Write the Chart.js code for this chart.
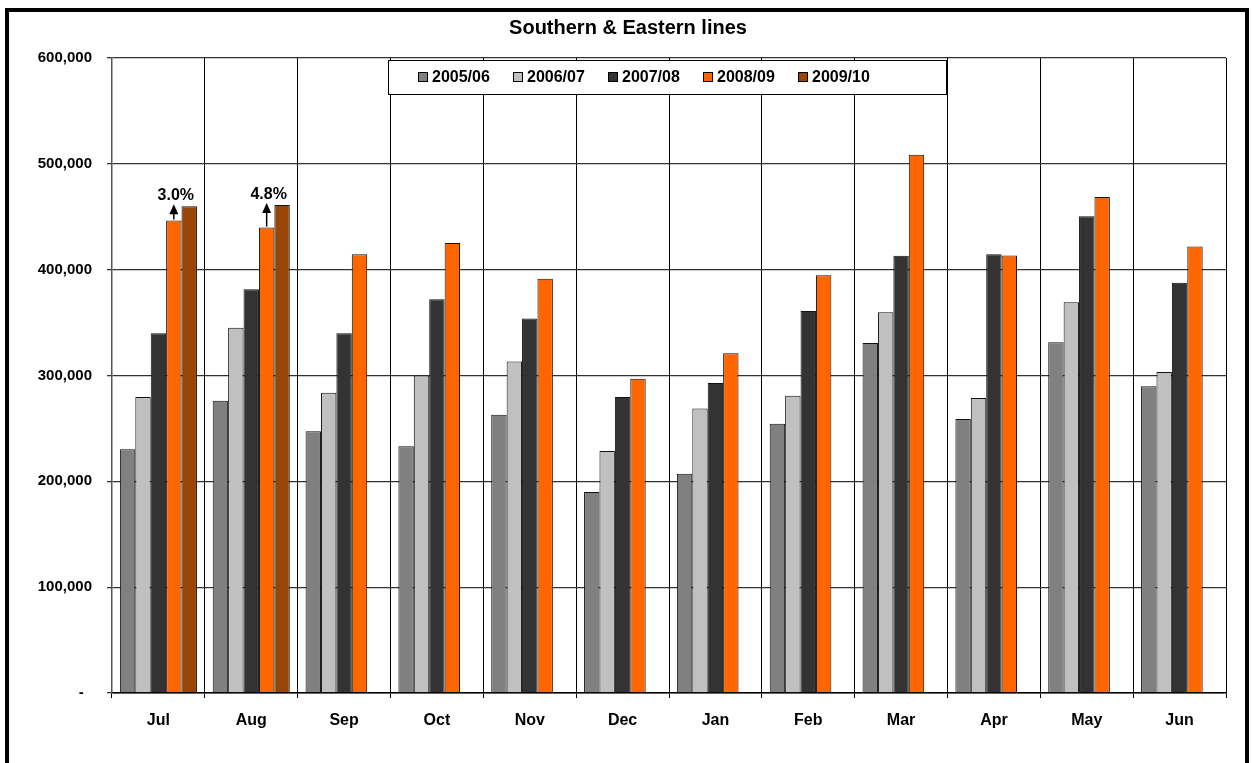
<!DOCTYPE html>
<html>
<head>
<meta charset="utf-8">
<title>Southern & Eastern lines</title>
<script src="https://cdn.jsdelivr.net/npm/chart.js@4.4.1/dist/chart.umd.min.js"></script>
<style>
  html, body { margin: 0; padding: 0; background: #fff; }
  canvas { display: block; }
</style>
</head>
<body>
<canvas id="barChart" width="1252" height="763"></canvas>
<script>
const months = ['Jul', 'Aug', 'Sep', 'Oct', 'Nov', 'Dec', 'Jan', 'Feb', 'Mar', 'Apr', 'May', 'Jun'];
const years = ['2005/06', '2006/07', '2007/08', '2008/09', '2009/10'];

const y0506 = [230200, 276200, 247300, 233200, 262800, 189900, 207100, 254300, 330800, 259000, 331400, 289800];
const y0607 = [279700, 345100, 283800, 300000, 313200, 228700, 268900, 280800, 359800, 278700, 369200, 303200];
const y0708 = [340000, 381600, 340000, 372000, 353800, 279800, 292800, 361000, 413200, 414600, 450500, 387600];
const y0809 = [446500, 439800, 414600, 425200, 391500, 296900, 321000, 394700, 508500, 413300, 468600, 421900];
const y0910 = [460000, 461000, null, null, null, null, null, null, null, null, null, null];

const yTicks = [0, 100000, 200000, 300000, 400000, 500000, 600000];
// growth of 2009/10 over 2008/09, shown above the first two months
const growthMonths = [0, 1];
const growthLabels = ['3.0%', '4.8%'];

const colors = ['#808080', '#c0c0c0', '#333333', '#ff6600', '#9a4508'];
const font = 'Arial, "Liberation Sans", sans-serif';

const frame = {
    id: 'frame',
    afterDraw(chart) {
        const ctx = chart.ctx;
        ctx.save();
        ctx.strokeStyle = '#000';
        ctx.lineWidth = 4;
        ctx.strokeRect(7, 10, 1240, 800);
        ctx.restore();
    }
};

const boxLegend = {
    id: 'boxLegend',
    afterDraw(chart) {
        const ctx = chart.ctx;
        ctx.save();
        ctx.fillStyle = '#fff';
        ctx.fillRect(388.5, 60.5, 558, 34);
        ctx.strokeStyle = '#000';
        ctx.lineWidth = 1;
        ctx.strokeRect(388.5, 60.5, 558, 34);
        ctx.font = 'bold 16px ' + font;
        ctx.textBaseline = 'middle';
        ctx.textAlign = 'left';
        chart.data.datasets.forEach((ds, i) => {
            const x = 418 + i * 95;
            ctx.fillStyle = ds.backgroundColor;
            ctx.fillRect(x + 0.5, 72.5, 9, 9);
            ctx.strokeStyle = '#000';
            ctx.strokeRect(x + 0.5, 72.5, 9, 9);
            ctx.fillStyle = '#000';
            ctx.fillText(ds.label, x + 14, 78);
        });
        ctx.restore();
    }
};

const growthArrows = {
    id: 'growthArrows',
    afterDatasetsDraw(chart) {
        const ctx = chart.ctx;
        const prev = chart.getDatasetMeta(3);
        const cur = chart.getDatasetMeta(4);
        ctx.save();
        ctx.strokeStyle = '#000';
        ctx.fillStyle = '#000';
        ctx.lineWidth = 1.5;
        growthMonths.forEach((m, i) => {
            const bar = prev.data[m];
            const x = bar.x;
            const base = bar.y - 1;
            const tip = cur.data[m].y;
            ctx.beginPath();
            ctx.moveTo(x, base);
            ctx.lineTo(x, tip + 6);
            ctx.stroke();
            ctx.beginPath();
            ctx.moveTo(x, tip - 2);
            ctx.lineTo(x - 4.5, tip + 8);
            ctx.lineTo(x + 4.5, tip + 8);
            ctx.closePath();
            ctx.fill();
            ctx.font = 'bold 16px ' + font;
            ctx.textAlign = 'center';
            ctx.textBaseline = 'bottom';
            ctx.fillText(growthLabels[i], x + 2, tip - 3);
        });
        ctx.restore();
    }
};

new Chart(document.getElementById('barChart'), {
    type: 'bar',
    data: {
        labels: months,
        datasets: [y0506, y0607, y0708, y0809, y0910].map((d, i) => ({
            label: years[i],
            data: d,
            backgroundColor: colors[i],
            borderColor: '#111',
            borderWidth: 1,
            borderSkipped: 'bottom',
            categoryPercentage: 0.83,
            barPercentage: 1.0
        }))
    },
    options: {
        responsive: false,
        animation: false,
        layout: {
            padding: { left: 30, right: 26, top: 0, bottom: 34 }
        },
        scales: {
            x: {
                offset: true,
                grid: {
                    offset: true,
                    color: '#000',
                    lineWidth: 1,
                    tickLength: 5
                },
                border: { color: '#000', width: 1.5 },
                ticks: {
                    color: '#000',
                    padding: 13,
                    font: { family: font, size: 16, weight: 'bold' }
                },
                afterFit(s) { s.height = 36; }
            },
            y: {
                min: 0,
                max: 600000,
                afterBuildTicks(s) { s.ticks = yTicks.map(v => ({ value: v })); },
                grid: {
                    color: '#333',
                    lineWidth: 1.3,
                    tickLength: 5
                },
                border: { color: '#555', width: 1.5 },
                ticks: {
                    color: '#000',
                    padding: 15,
                    font: { family: font, size: 15, weight: 'bold' },
                    callback: v => v === 0 ? '-  ' : v.toLocaleString('en-US')
                },
                afterFit(s) { s.width = 82; }
            }
        },
        plugins: {
            legend: { display: false },
            tooltip: { enabled: false },
            title: {
                display: true,
                text: 'Southern & Eastern lines',
                color: '#000',
                font: { family: font, size: 20, weight: 'bold' },
                padding: { top: 16, bottom: 18 }
            }
        }
    },
    plugins: [frame, growthArrows, boxLegend]
});
</script>
</body>
</html>
